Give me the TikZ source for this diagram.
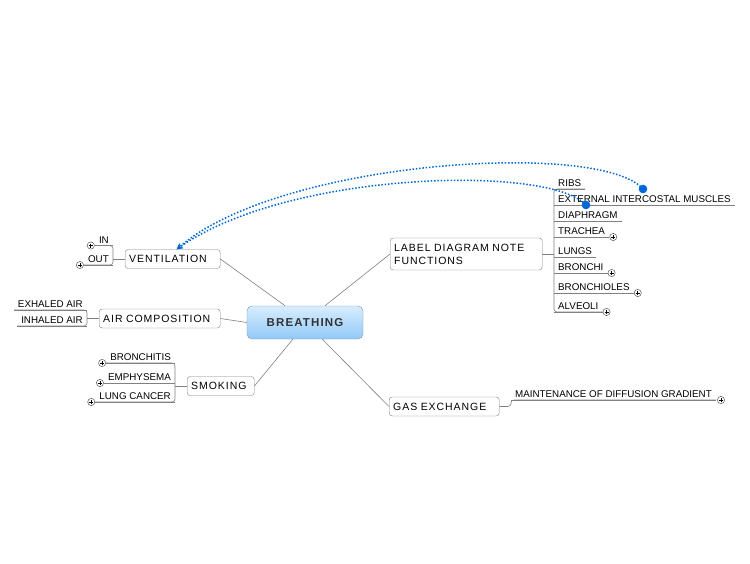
\documentclass[tikz,border=0pt]{standalone}
\usepackage{fontspec}
\setmainfont{Liberation Sans}
\usetikzlibrary{arrows.meta}

\definecolor{linkblue}{RGB}{0,104,214}
\definecolor{skytop}{RGB}{216,237,255}
\definecolor{skybot}{RGB}{146,201,247}
\definecolor{rim}{RGB}{130,150,170}

\tikzset{
  topic/.style={draw=gray, rounded corners=3pt, fill=white, anchor=west, align=left,
    minimum height=19pt, inner xsep=4pt, inner ysep=2pt,
    font=\fontsize{10.5}{13}\selectfont\addfontfeature{LetterSpace=9}},
  leaf/.style={inner xsep=4pt, inner ysep=2pt, font=\fontsize{9.8}{11}\selectfont,
    append after command={(\tikzlastnode.south west) edge[branch] (\tikzlastnode.south east)}},
  branch/.style={draw=gray, line width=0.6pt},
  link/.style={linkblue, line width=1.5pt, dash pattern=on 1.5pt off 1.8pt,
    -{Stealth[length=6pt,width=6pt]}},
  plusmark/.pic={
    \draw[gray!70!black, fill=white, line width=0.5pt] (0,0) circle (3.6pt);
    \draw[line width=0.7pt] (-2pt,0) -- (2pt,0) (0,-2pt) -- (0,2pt);
  }
}

\begin{document}
\begin{tikzpicture}[x=1pt,y=-1pt]
\useasboundingbox (0,0) rectangle (750,563);

% central topic
\node[draw=rim, rounded corners=5pt, top color=skytop, bottom color=skybot,
  minimum width=116pt, minimum height=33pt, text=black!80,
  font=\fontsize{11.5}{13}\selectfont\bfseries\addfontfeature{LetterSpace=10}]
  (breathing) at (305,322.5) {BREATHING};

% main topics
\node[topic, text width=87pt] (ventilation) at (125,259) {VENTILATION};
\node[topic, text width=113pt] (aircomp) at (99,318.5) {AIR COMPOSITION};
\node[topic, text width=59pt] (smoking) at (187,386) {SMOKING};
\node[topic, text width=144pt, minimum height=32pt] (labeldiag) at (390,254) {LABEL DIAGRAM NOTE\\FUNCTIONS};
\node[topic, text width=102pt] (gasex) at (389,406.5) {GAS EXCHANGE};

\draw[branch] (ventilation.east) -- (breathing.140);
\draw[branch] (aircomp.east) -- (breathing.west);
\draw[branch] (smoking.east) -- (breathing.234);
\draw[branch] (labeldiag.west) -- (breathing.40);
\draw[branch] (gasex.west) -- (breathing.316);

% ventilation
\node[leaf, anchor=south east] (in) at (113,245.5) {IN};
\node[leaf, anchor=south east] (out) at (113,265) {OUT};
\draw[branch, rounded corners=3pt] (in.south west) -- (in.south east) -- (out.south east) -- (out.south west);
\draw[branch] (ventilation.west) -- (ventilation.west -| in.south east);
\pic at ([xshift=-4pt]in.south west) {plusmark};
\pic at ([xshift=-4pt]out.south west) {plusmark};

% air composition
\node[leaf, anchor=south east] (exhaled) at (87,310) {EXHALED AIR};
\node[leaf, anchor=south east] (inhaled) at (87,326) {INHALED AIR};
\draw[branch, rounded corners=3pt] (exhaled.south west) -- (exhaled.south east) -- (inhaled.south east) -- (inhaled.south west);
\draw[branch] (aircomp.west) -- (aircomp.west -| exhaled.south east);

% smoking
\node[leaf, anchor=south east] (bronchitis) at (175,363) {BRONCHITIS};
\node[leaf, anchor=south east] (emphysema) at (175,383) {EMPHYSEMA};
\node[leaf, anchor=south east] (lungcancer) at (175,402) {LUNG CANCER};
\draw[branch, rounded corners=3pt] (bronchitis.south west) -- (bronchitis.south east) -- (lungcancer.south east) -- (lungcancer.south west);
\draw[branch] (smoking.west) -- (smoking.west -| bronchitis.south east);
\foreach \n in {bronchitis,emphysema,lungcancer}
  \pic at ([xshift=-4pt]\n.south west) {plusmark};

% label diagram note functions
\foreach \n/\t/\y in {ribs/RIBS/189, extmuscles/EXTERNAL INTERCOSTAL MUSCLES/205,
    diaphragm/DIAPHRAGM/221, trachea/TRACHEA/237, lungs/LUNGS/257,
    bronchi/BRONCHI/273, bronchioles/BRONCHIOLES/293, alveoli/ALVEOLI/312}
  \node[leaf, anchor=south west] (\n) at (554,\y) {\t};
\draw[branch, rounded corners=3pt] (ribs.south east) -- (ribs.south west) -- (alveoli.south west) -- (alveoli.south east);
\draw[branch] (labeldiag.east) -- (labeldiag.east -| ribs.south west);
\foreach \n in {trachea,bronchi,bronchioles,alveoli}
  \pic at ([xshift=4pt]\n.south east) {plusmark};

% gas exchange
\node[leaf, anchor=south west] (gradient) at (511,400) {MAINTENANCE OF DIFFUSION GRADIENT};
\draw[branch, rounded corners=3pt] (gasex.east) -- (gasex.east -| gradient.south west) -- (gradient.south west) -- (gradient.south east);
\pic at ([xshift=5pt]gradient.south east) {plusmark};

% relationships
\coordinate (dotA) at (643,189);
\coordinate (dotB) at (586,205);
\draw[link] (dotA) .. controls (600,140) and (280,160) .. ([xshift=4pt]ventilation.north);
\draw[link] (dotB) .. controls (550,165) and (290,170) .. ([xshift=4pt]ventilation.north);
\fill[linkblue] (dotA) circle (4.3pt);
\fill[linkblue] (dotB) circle (4.3pt);
\end{tikzpicture}
\end{document}
